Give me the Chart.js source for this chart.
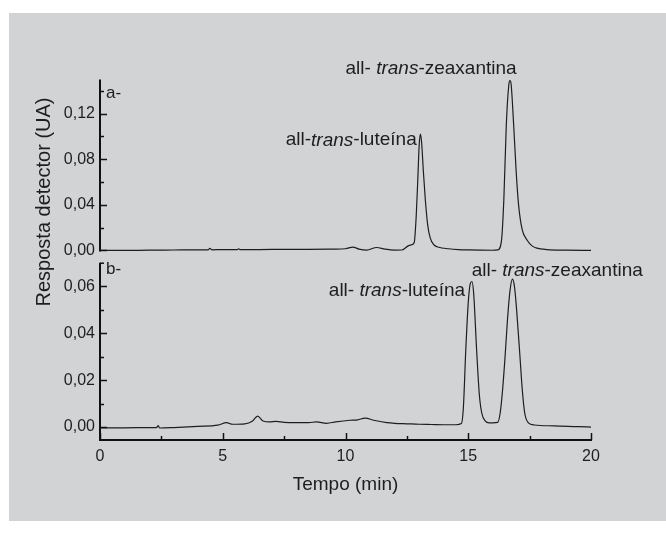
<!DOCTYPE html>
<html>
<head>
<meta charset="utf-8">
<script src="https://cdn.jsdelivr.net/npm/chart.js@4/dist/chart.umd.min.js"></script>
<style>
  html, body { margin: 0; padding: 0; background: #ffffff; }
  #wrap { position: relative; width: 666px; height: 534px; overflow: hidden; }
  #bg { position: absolute; left: 9px; top: 13px; width: 657px; height: 508px; background: #d2d3d5; }
  canvas { position: absolute; left: 0; top: 0; }
</style>
</head>
<body>
<div id="wrap">
  <div id="bg"></div>
  <canvas id="cA" width="666" height="534"></canvas>
  <canvas id="cB" width="666" height="534"></canvas>
</div>
<script>
// ---------- DATA ----------
// Panel a- : time (min) and detector response (UA)
const timeA = [0, 1, 2, 3, 4, 4.4, 4.48, 4.56, 5.0, 5.6, 5.65, 5.72, 6.5, 7.5, 8.5, 9.5, 10.0, 10.3, 10.55, 10.86, 11.27, 11.6, 12.0, 12.3,
  12.55, 12.7, 12.8, 12.88, 12.95, 13.0, 13.05, 13.1, 13.17, 13.25, 13.35, 13.45, 13.6, 13.8, 14.2, 14.6, 15.0, 15.5, 16.0,
  16.2, 16.35, 16.45, 16.55, 16.65, 16.7, 16.75, 16.85, 16.95, 17.05, 17.2, 17.4, 17.6, 17.8, 18.2, 19.0, 20.0];
const respA = [0.0, 0.0, 0.0003, 0.0004, 0.0005, 0.0006, 0.0018, 0.0006, 0.0007, 0.0008, 0.0015, 0.0008, 0.0008, 0.001, 0.001, 0.0012, 0.0015, 0.003, 0.0012, 0.0003, 0.0026, 0.0012, 0.0003, 0.0004,
  0.004, 0.005, 0.007, 0.03, 0.065, 0.092, 0.102, 0.095, 0.07, 0.045, 0.022, 0.011, 0.005, 0.0028, 0.0015, 0.0008, 0.0005, 0.0003, 0.0002,
  0.0005, 0.008, 0.045, 0.11, 0.145, 0.149, 0.145, 0.11, 0.07, 0.04, 0.018, 0.009, 0.004, 0.002, 0.0008, 0.0003, 0.0];

// Panel b- : time (min) and detector response (UA)
const timeB = [0, 1, 2, 2.3, 2.37, 2.43, 3, 4, 4.8, 5.15, 5.4, 5.9, 6.2, 6.42, 6.64, 6.9, 7.17, 7.5, 8.0, 8.5, 8.82, 9.23, 9.6, 10.18, 10.5, 10.79, 11.2, 11.68, 12.0, 12.5, 13.0, 13.5, 14.0, 14.5,
  14.72, 14.8, 14.9, 15.0, 15.08, 15.15, 15.22, 15.34, 15.45, 15.55, 15.7, 15.85, 16.0,
  16.2, 16.3, 16.4, 16.5, 16.6, 16.7, 16.8, 16.88, 16.97, 17.1, 17.2, 17.3, 17.45, 17.7, 18.5, 19.5, 20.0];
const respB = [-0.0003, -0.0003, -0.0002, -0.0002, 0.0006, -0.0004, -0.0002, 0.0003, 0.0008, 0.0019, 0.0012, 0.0014, 0.0025, 0.0047, 0.0026, 0.0022, 0.0024, 0.002, 0.0019, 0.0019, 0.0022, 0.0016, 0.0022, 0.0029, 0.0031, 0.0038, 0.0028, 0.0019, 0.0016, 0.0014, 0.0012, 0.0011, 0.001, 0.001,
  0.0015, 0.008, 0.033, 0.053, 0.061, 0.062, 0.057, 0.033, 0.014, 0.006, 0.0025, 0.0018, 0.0018,
  0.002, 0.006, 0.016, 0.03, 0.046, 0.058, 0.063, 0.06, 0.05, 0.031, 0.016, 0.006, 0.0018, 0.0009, 0.0005, 0.0002, 0.0];

// Tick values
const xTicks = [0, 5, 10, 15, 20];
const xMinorTicks = [2.5, 7.5, 12.5, 17.5];
const yTicksA = [0, 0.04, 0.08, 0.12];
const yMinorA = [0.02, 0.06, 0.10, 0.14];
const yTicksB = [0, 0.02, 0.04, 0.06];
const yMinorB = [0.01, 0.03, 0.05];

// Texts
const panelLabelA = 'a-';
const panelLabelB = 'b-';
const xTitle = 'Tempo (min)';
const yTitle = 'Resposta detector (UA)';
// annotations: segments, anchor (time, response), alignment
const notesA = [
  { parts: [['all-', false], [' ', false], ['trans', true], ['-zeaxantina', false]], t: 16.97, v: 0.1596, align: 'right' },
  { parts: [['all-', false], ['trans', true], ['-luteína', false]], t: 12.9, v: 0.0967, align: 'right' }
];
const notesB = [
  { parts: [['all-', false], [' ', false], ['trans', true], ['-luteína', false]], t: 14.87, v: 0.058, align: 'right' },
  { parts: [['all-', false], [' ', false], ['trans', true], ['-zeaxantina', false]], t: 15.14, v: 0.0665, align: 'left' }
];

// ---------- DRAWING ----------
const FONT = '"Liberation Sans", Arial, Helvetica, sans-serif';
const INK = '#1e1e1e';
const W = 666, H = 534;

function fmt(v) { return v.toFixed(2).replace('.', ','); }

function axesPlugin(opts) {
  return {
    id: 'axesDraw' + opts.name,
    afterDraw(chart) {
      const ctx = chart.ctx;
      const ca = chart.chartArea;
      const xs = chart.scales.x, ys = chart.scales.y;
      ctx.save();
      ctx.strokeStyle = '#111';
      ctx.lineWidth = 2;
      ctx.beginPath();
      ctx.moveTo(ca.left, ca.top);
      ctx.lineTo(ca.left, ca.bottom + (opts.showX ? 1 : 0));
      ctx.stroke();
      ctx.lineWidth = 1.5;
      opts.yMajor.forEach(v => {
        const y = Math.round(ys.getPixelForValue(v)) + 0.5;
        ctx.beginPath(); ctx.moveTo(ca.left, y); ctx.lineTo(ca.left + 7, y); ctx.stroke();
      });
      opts.yMinor.forEach(v => {
        const y = Math.round(ys.getPixelForValue(v)) + 0.5;
        ctx.beginPath(); ctx.moveTo(ca.left, y); ctx.lineTo(ca.left + 4, y); ctx.stroke();
      });
      if (opts.topCap) {
        ctx.beginPath(); ctx.moveTo(ca.left, ca.top + 0.5); ctx.lineTo(ca.left + 4, ca.top + 0.5); ctx.stroke();
      }
      if (opts.showX) {
        ctx.lineWidth = 2;
        ctx.beginPath();
        ctx.moveTo(ca.left - 1, ca.bottom);
        ctx.lineTo(ca.right + 1, ca.bottom);
        ctx.stroke();
        ctx.lineWidth = 1.5;
        xTicks.forEach(v => {
          const x = Math.round(xs.getPixelForValue(v)) + 0.5;
          ctx.beginPath(); ctx.moveTo(x, ca.bottom); ctx.lineTo(x, ca.bottom - 7); ctx.stroke();
        });
        xMinorTicks.forEach(v => {
          const x = Math.round(xs.getPixelForValue(v)) + 0.5;
          ctx.beginPath(); ctx.moveTo(x, ca.bottom); ctx.lineTo(x, ca.bottom - 4); ctx.stroke();
        });
        ctx.fillStyle = INK;
        ctx.font = '19px ' + FONT;
        ctx.textAlign = 'center';
        ctx.textBaseline = 'middle';
        ctx.fillText(xTitle, (ca.left + ca.right) / 2, 485);
      }
      ctx.fillStyle = INK;
      ctx.font = '17px ' + FONT;
      ctx.textAlign = 'left';
      ctx.textBaseline = 'alphabetic';
      ctx.fillText(opts.panelLabel, ca.left + 6, ca.top + opts.labelDy);
      opts.notes.forEach(n => {
        const widths = n.parts.map(p => { ctx.font = (p[1] ? 'italic ' : '') + '19px ' + FONT; return ctx.measureText(p[0]).width; });
        const total = widths.reduce((a, b) => a + b, 0);
        let x = xs.getPixelForValue(n.t);
        if (n.align === 'right') x -= total;
        const y = ys.getPixelForValue(n.v);
        ctx.textBaseline = 'middle';
        ctx.textAlign = 'left';
        n.parts.forEach((p, i) => {
          ctx.font = (p[1] ? 'italic ' : '') + '19px ' + FONT;
          ctx.fillText(p[0], x, y);
          x += widths[i];
        });
      });
      if (opts.yTitle) {
        ctx.save();
        ctx.translate(44, 202);
        ctx.rotate(-Math.PI / 2);
        ctx.font = '20px ' + FONT;
        ctx.textAlign = 'center';
        ctx.textBaseline = 'middle';
        ctx.fillText(yTitle, 0, 0);
        ctx.restore();
      }
      ctx.restore();
    }
  };
}

function makeChart(id, times, resp, cfg) {
  const pts = times.map((t, i) => ({ x: t, y: resp[i] }));
  const leftW = cfg.area.left;
  const bottomH = H - cfg.area.bottom;
  return new Chart(document.getElementById(id), {
    type: 'line',
    data: { datasets: [{ data: pts, borderColor: INK, borderWidth: 1.2, pointRadius: 0, cubicInterpolationMode: 'monotone', fill: false }] },
    options: {
      responsive: false, animation: false, events: [],
      layout: { padding: { left: 0, right: W - cfg.area.right, top: cfg.area.top, bottom: cfg.showX ? 0 : bottomH } },
      plugins: { legend: { display: false }, tooltip: { enabled: false } },
      scales: {
        x: {
          type: 'linear', min: 0, max: 20,
          display: cfg.showX,
          afterFit: s => { s.height = cfg.showX ? bottomH : 0; },
          afterBuildTicks: s => { s.ticks = xTicks.map(v => ({ value: v })); },
          grid: { display: false, drawTicks: false },
          border: { display: false },
          ticks: { color: INK, font: { size: 16, family: FONT }, padding: 7, maxRotation: 0, autoSkip: false, callback: v => String(v) }
        },
        y: {
          type: 'linear', min: cfg.yMin, max: cfg.yMax,
          afterFit: s => { s.width = leftW; },
          afterBuildTicks: s => { s.ticks = cfg.yMajor.map(v => ({ value: v })); },
          grid: { display: false, drawTicks: false },
          border: { display: false },
          ticks: { color: INK, font: { size: 16, family: FONT }, padding: 5, autoSkip: false, callback: v => fmt(v) }
        }
      }
    },
    plugins: [axesPlugin(cfg)]
  });
}

makeChart('cA', timeA, respA, {
  name: 'A', area: { left: 100, right: 591, top: 79.5, bottom: 251.6 },
  yMin: -0.001, yMax: 0.15, yMajor: yTicksA, yMinor: yMinorA, showX: false,
  panelLabel: panelLabelA, labelDy: 18, notes: notesA, yTitle: true, topCap: false
});
makeChart('cB', timeB, respB, {
  name: 'B', area: { left: 100, right: 591, top: 262.7, bottom: 440 },
  yMin: -0.0055, yMax: 0.07, yMajor: yTicksB, yMinor: yMinorB, showX: true,
  panelLabel: panelLabelB, labelDy: 11, notes: notesB, yTitle: false, topCap: true
});
</script>
</body>
</html>
